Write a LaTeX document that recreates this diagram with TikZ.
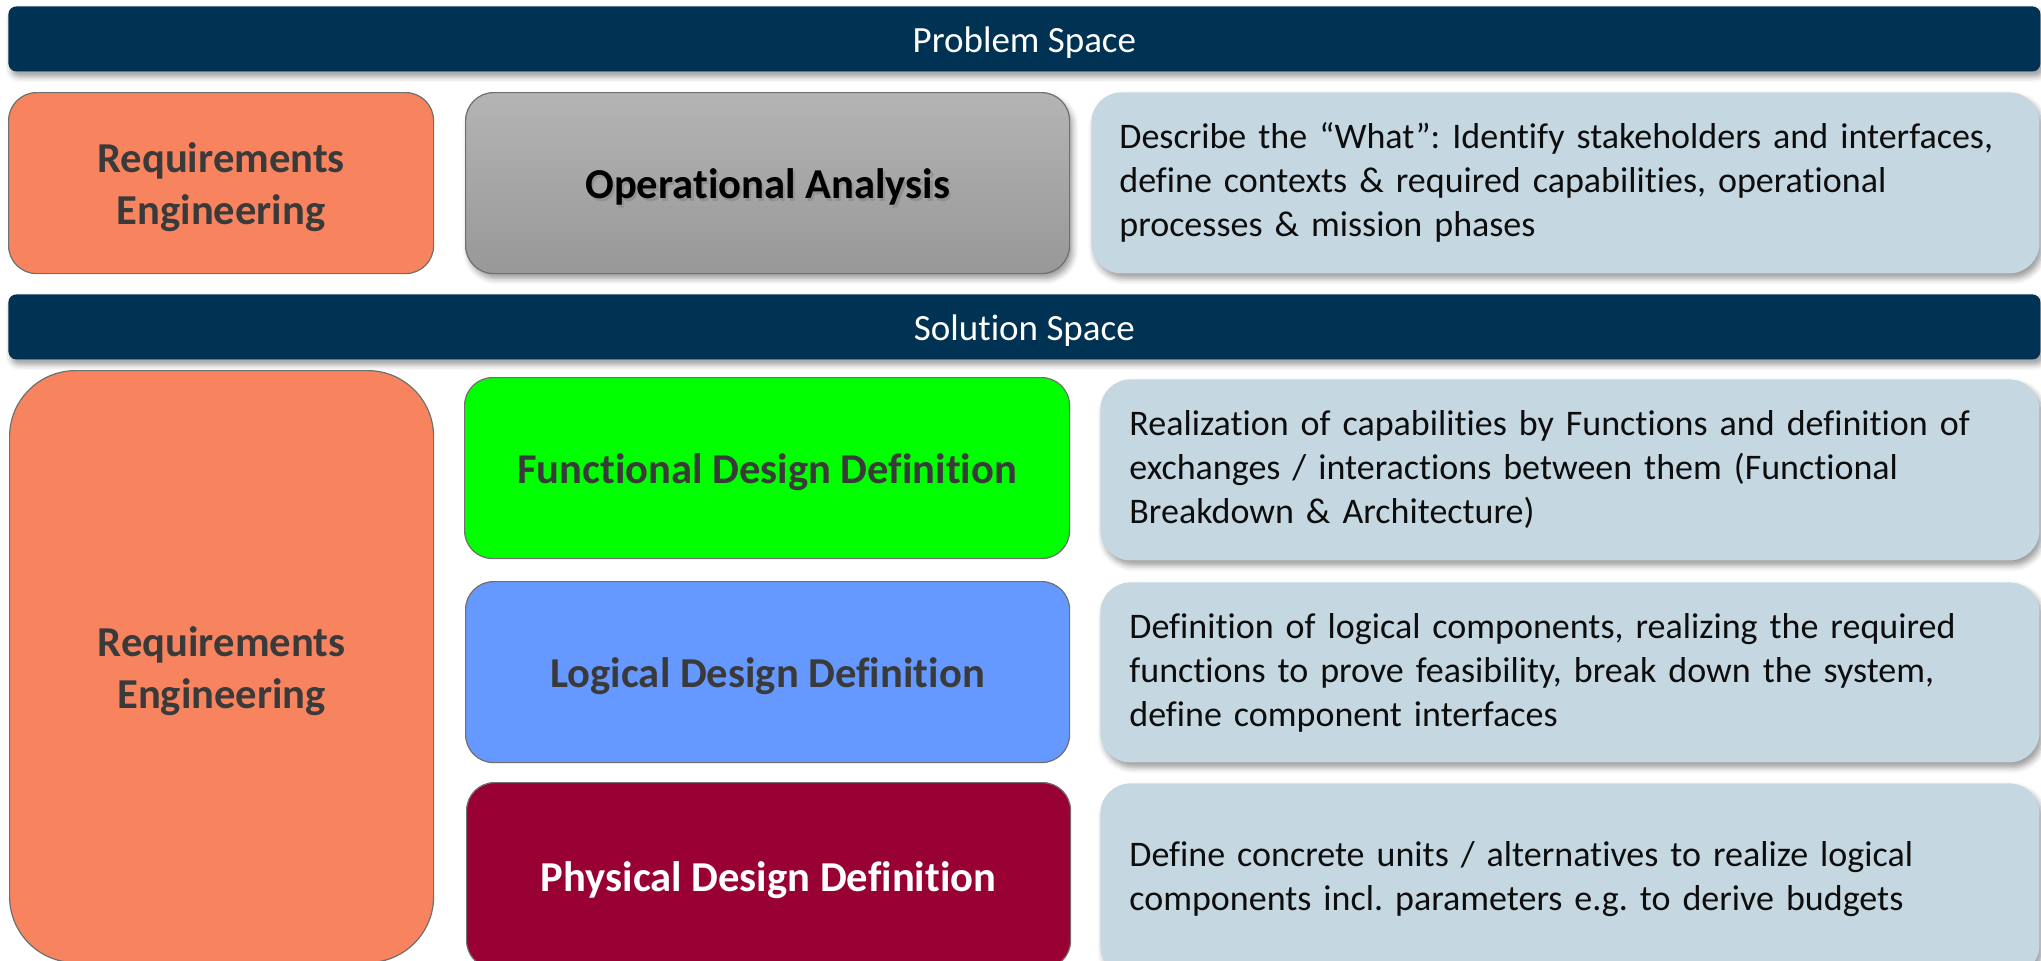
\documentclass[tikz,border=0pt]{standalone}
\usepackage{fontspec}
\setmainfont{Carlito}[Ligatures=NoCommon]
\usetikzlibrary{shadows.blur}
\frenchspacing

\definecolor{navy}{HTML}{003253}
\definecolor{reqorange}{HTML}{F8845F}
\definecolor{descblue}{HTML}{C5D7E1}
\definecolor{funcgreen}{HTML}{00FF00}
\definecolor{logblue}{HTML}{6699FF}
\definecolor{physred}{HTML}{990033}
\definecolor{boxline}{HTML}{6F6F6F}
\definecolor{titlegray}{HTML}{3A3A3A}
\definecolor{opgraytop}{HTML}{B4B4B4}
\definecolor{opgraybot}{HTML}{989898}

% invisible struts that lower the first line a little inside its box
\newcommand{\titlestrut}{\rule{0pt}{19pt}}
\newcommand{\bannerstrut}{\rule{0pt}{17pt}}

\begin{document}
\begin{tikzpicture}[x=0.5pt,y=-0.5pt,
  softshadow/.style={blur shadow={shadow xshift=1.5pt, shadow yshift=-2.5pt,
      shadow blur radius=3pt, shadow opacity=40}},
  banner/.style={fill=navy, rounded corners=4pt, anchor=north west, inner sep=0pt,
      minimum width=1016pt, minimum height=32.5pt, text=white,
      font=\fontsize{18.5}{22}\selectfont, softshadow},
  phase/.style={draw=boxline, line width=0.6pt, rounded corners=14pt, anchor=north west,
      inner sep=0pt, align=center, text=titlegray,
      font=\fontsize{21.3}{26}\selectfont\bfseries},
  desc/.style={fill=descblue, rounded corners=15pt, anchor=north west, inner xsep=14.5pt,
      inner ysep=0pt, align=left, text width=440.5pt, text=black!95,
      font=\fontsize{18}{22}\selectfont, softshadow},
  reqbox/.style={phase, fill=reqorange}
]
\useasboundingbox (0,0) rectangle (2041,960);

% Problem space
\node[banner] (problem) at (8,6) {\bannerstrut Problem Space};

\node[reqbox, minimum width=212.5pt, minimum height=90.5pt] (req1) at (8,92)
  {\titlestrut Requirements\\Engineering};

\node[phase, top color=opgraytop, bottom color=opgraybot, text=black,
      minimum width=302pt, minimum height=90.5pt, softshadow] (opana) at (465,92) {};
\node[text=black!50, opacity=0.5, inner sep=0pt, font=\fontsize{21.3}{26}\selectfont\bfseries]
  (opshadow) at ([xshift=1.2pt,yshift=-1.4pt]opana.center) {\titlestrut Operational Analysis};
\node[text=black, inner sep=0pt, font=\fontsize{21.3}{26}\selectfont\bfseries]
  (optitle) at (opana.center) {\titlestrut Operational Analysis};

\node[desc, minimum width=474pt, minimum height=90.5pt, inner xsep=14pt,
      text width=446pt] (d1) at (1091,92)
  {Describe the “What”: Identify stakeholders and interfaces,\\
   define contexts \& required capabilities, operational\\
   processes \& mission phases};

% Solution space
\node[banner] (solution) at (8,294) {\bannerstrut Solution Space};

\node[reqbox, rounded corners=33pt, minimum width=212pt, minimum height=296pt] (req2) at (9,370)
  {\titlestrut Requirements\\Engineering};

\node[phase, fill=funcgreen, minimum width=302.5pt, minimum height=90.5pt] (func) at (464,377)
  {\titlestrut Functional Design Definition};
\node[desc, minimum width=469.5pt, minimum height=90.5pt] (d2) at (1100,379)
  {Realization of capabilities by Functions and definition of\\
   exchanges / interactions between them (Functional\\
   Breakdown \& Architecture)};

\node[phase, fill=logblue, minimum width=302pt, minimum height=90.5pt] (logic) at (465,581)
  {\titlestrut Logical Design Definition};
\node[desc, minimum width=469.5pt, minimum height=90pt] (d3) at (1100,582)
  {Definition of logical components, realizing the required\\
   functions to prove feasibility, break down the system,\\
   define component interfaces};

\node[phase, fill=physred, text=white, minimum width=302pt, minimum height=93pt] (phys) at (466,782)
  {\titlestrut Physical Design Definition};
\node[desc, minimum width=469.5pt, minimum height=96pt] (d4) at (1100,783)
  {Define concrete units / alternatives to realize logical\\
   components incl. parameters e.g. to derive budgets};
\end{tikzpicture}
\end{document}
